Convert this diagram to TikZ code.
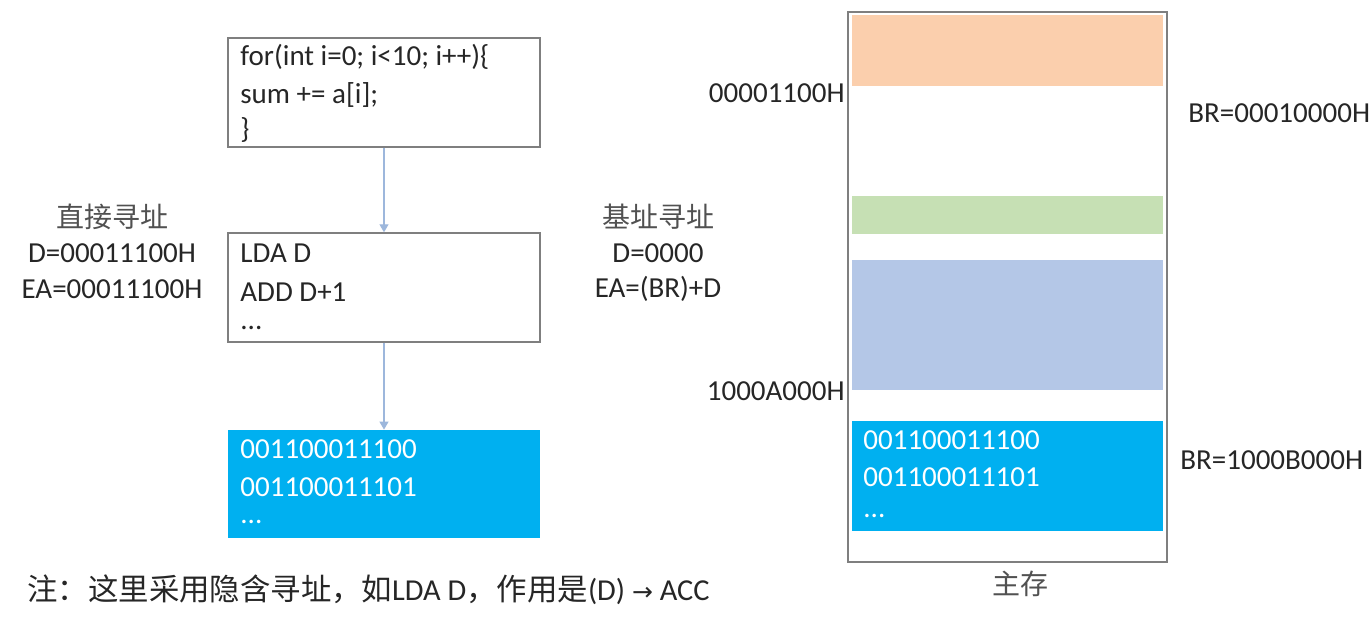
\documentclass[tikz,border=0pt]{standalone}
\usepackage{fontspec}
\setmainfont{Carlito}
\newfontfamily\cjk{Noto Sans CJK SC}
\newfontfamily\sym{DejaVu Sans}
\usetikzlibrary{arrows.meta}
\definecolor{boxgray}{HTML}{7F7F7F}
\definecolor{arrowblue}{HTML}{9DB7DC}
\definecolor{cyanfill}{HTML}{00B0F0}
\definecolor{orangefill}{HTML}{FBCFAD}
\definecolor{greenfill}{HTML}{C6E0B4}
\definecolor{bluefill}{HTML}{B4C7E7}
\definecolor{textgray}{HTML}{262626}
\tikzset{
  codebox/.style={draw=boxgray, line width=0.7pt, minimum width=156pt, minimum height=54.5pt, inner sep=0pt},
  fillbox/.style={fill=cyanfill, draw=none, minimum width=156pt, minimum height=54pt, inner sep=0pt},
  band/.style={draw=none, inner sep=0pt, minimum width=155.5pt},
  txt/.style={inner sep=0pt, font=\fontsize{14.5pt}{17pt}\selectfont, text=textgray},
  wtxt/.style={inner sep=0pt, font=\fontsize{14.5pt}{17pt}\selectfont, text=white},
  cjktxt/.style={inner sep=0pt, font=\cjk\fontsize{14pt}{17pt}\selectfont, text=textgray!80},
  flow/.style={draw=arrowblue, line width=0.6pt, -{Triangle[width=4.5pt,length=4pt]}},
}
\begin{document}
\begin{tikzpicture}[x=0.5pt,y=-0.5pt]
\useasboundingbox (0,0) rectangle (1369,627);
\fill[white] (0,0) rectangle (1369,627);
% left column boxes
\node[codebox] (b1) at (384,92.5) {};
\node[codebox] (b2) at (384,287.5) {};
\node[fillbox] (b3) at (384,484) {};
\node[txt,anchor=west] (t11) at (240,57) {for(int i=0; i<10; i++)\{};
\node[txt,anchor=west] (t12) at (240,95) {sum += a[i];};
\node[txt,anchor=west] (t13) at (240,130) {\}};
\node[txt,anchor=west] (t21) at (240,253) {LDA D};
\node[txt,anchor=west] (t22) at (240,292) {ADD D+1};
\node[txt,anchor=west] (t23) at (240,328) {...};
\node[wtxt,anchor=west] (t31) at (240,449) {001100011100};
\node[wtxt,anchor=west] (t32) at (240,487) {001100011101};
\node[wtxt,anchor=west] (t33) at (240,522) {...};
\draw[flow] (b1.south) -- (b2.north);
\draw[flow] (b2.south) -- (b3.north);
% left labels
\node[cjktxt] (l1) at (112,217) {直接寻址};
\node[txt] (l2) at (112,253) {D=00011100H};
\node[txt] (l3) at (112,289) {EA=00011100H};
% middle labels
\node[cjktxt] (m1) at (658,217) {基址寻址};
\node[txt] (m2) at (658,253) {D=0000};
\node[txt] (m3) at (658,289) {EA=(BR)+D};
% memory
\node[draw=boxgray, line width=1pt, minimum width=159.5pt, minimum height=275pt, inner sep=0pt] (mem) at (1007.5,287) {};
\node[band, fill=orangefill, minimum height=35.5pt] (o1) at (1007.5,50.5) {};
\node[band, fill=greenfill, minimum height=19pt] (g1) at (1007.5,215) {};
\node[band, fill=bluefill, minimum height=65pt] (bl1) at (1007.5,325) {};
\node[band, fill=cyanfill, minimum height=55pt] (c1) at (1007.5,476) {};
\node[wtxt,anchor=west] (c11) at (863,440) {001100011100};
\node[wtxt,anchor=west] (c12) at (863,477) {001100011101};
\node[wtxt,anchor=west] (c13) at (863,516) {...};
\node[txt,anchor=east] (a1) at (845,93) {00001100H};
\node[txt,anchor=east] (a2) at (845,391) {1000A000H};
\node[txt,anchor=west] (br1) at (1188,113) {BR=00010000H};
\node[txt,anchor=west] (br2) at (1180,460) {BR=1000B000H};
\node[cjktxt] (zc) at (1020,584) {主存};
% note
\node[inner sep=0pt, anchor=west, text=textgray, font=\fontsize{15.2pt}{18pt}\selectfont] (note) at (27,590) {{\cjk 注：这里采用隐含寻址，如}LDA D{\cjk ，作用是}(D) {\sym\fontsize{12.5pt}{15pt}\selectfont →} ACC};
\end{tikzpicture}
\end{document}
